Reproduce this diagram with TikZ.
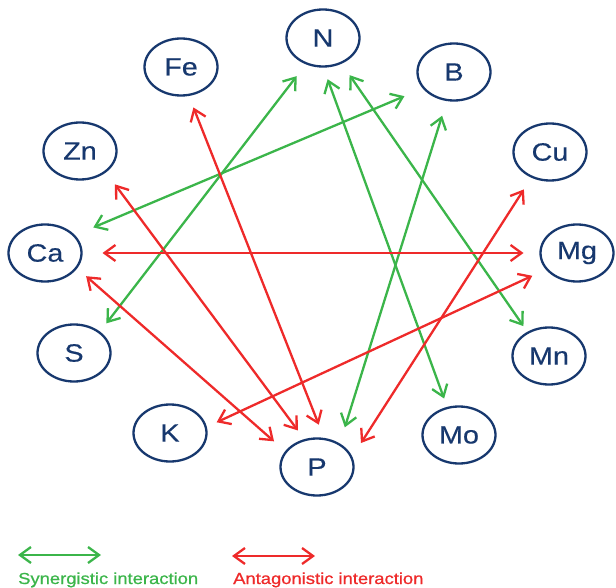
\documentclass[tikz,border=0pt]{standalone}
\usepackage{fontspec}
\setmainfont{Liberation Sans}
\newfontfamily\labfont[FakeStretch=1.15,FakeBold=0.4]{Liberation Sans}
\newfontfamily\legfont[FakeStretch=1.15,FakeBold=0.8]{Liberation Sans}
\usetikzlibrary{shapes.geometric,arrows.meta}
\definecolor{navy}{HTML}{17386E}
\definecolor{syngreen}{HTML}{3BB54A}
\definecolor{antred}{HTML}{EE2A2A}
\tikzset{
  elem/.style={ellipse, draw=navy, line width=2.3pt, minimum width=73pt, minimum height=57pt,
    inner sep=0pt, outer sep=0pt, text=navy, font=\labfont\fontsize{25}{30}\selectfont},
  link/.style={line width=2.3pt, {Straight Barb[length=11pt,width=16pt]}-{Straight Barb[length=11pt,width=16pt]}},
  syn/.style={link, draw=syngreen},
  ant/.style={link, draw=antred},
  legtext/.style={anchor=base west, inner sep=0pt, font=\legfont\fontsize{16}{19}\selectfont}
}
\begin{document}
\begin{tikzpicture}[x=1pt,y=-1pt]
\useasboundingbox (0,0) rectangle (616,588);
% element nodes
\node[elem] (N)  at (323,38)  {N};
\node[elem] (Fe) at (181,67)  {Fe};
\node[elem] (B)  at (454,72)  {B};
\node[elem] (Zn) at (80,151)  {Zn};
\node[elem] (Cu) at (550,152) {Cu};
\node[elem] (Ca) at (45,253)  {Ca};
\node[elem] (Mg) at (577,253) {Mg};
\node[elem] (S)  at (74,353)  {S};
\node[elem] (Mn) at (549,356) {Mn};
\node[elem] (K)  at (170,433) {K};
\node[elem] (Mo) at (459,435) {Mo};
\node[elem] (P)  at (317,467) {P};
% synergistic
\draw[syn, shorten <=16pt, shorten >=11.5pt] (N.237) -- (S.39.5);
\draw[syn, shorten <=21pt, shorten >=21pt] (B.208) -- (Ca.31);
\draw[syn, shorten <=13.5pt, shorten >=10pt] (N.270) -- (Mo.113);
\draw[syn, shorten <=15pt, shorten >=8pt] (N.306) -- (Mn.132);
\draw[syn, shorten <=16.5pt, shorten >=18pt] (B.256) -- (P.45);
% antagonistic
\draw[ant, shorten <=13.5pt, shorten >=15.5pt] (Fe.285) -- (P.75.7);
\draw[ant, shorten <=16pt, shorten >=12pt] (Zn.321.7) -- (P.114);
\draw[ant, shorten <=21pt, shorten >=17pt] (Ca.0) -- (Mg.180);
\draw[ant, shorten <=13pt, shorten >=16pt] (Ca.335) -- (P.154);
\draw[ant, shorten <=16pt, shorten >=12pt] (Mg.208.6) -- (K.9.7);
\draw[ant, shorten <=15pt, shorten >=17.5pt] (Cu.234) -- (P.15.4);
% legend
\coordinate (g1) at (18,555);
\coordinate (g2) at (101,555);
\coordinate (r1) at (232,556);
\coordinate (r2) at (315,556);
\draw[syn] (g1) -- (g2);
\draw[ant] (r1) -- (r2);
\node[legtext, text=syngreen] (gl) at (18,584) {Synergistic interaction};
\node[legtext, text=antred] (rl) at (233,584) {Antagonistic interaction};
\end{tikzpicture}
\end{document}
